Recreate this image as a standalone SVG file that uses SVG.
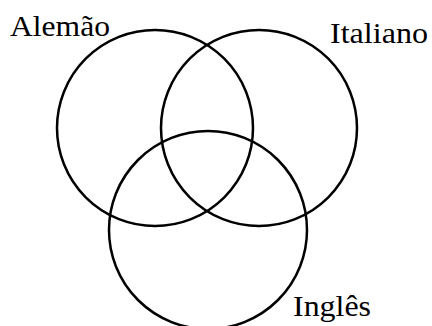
<svg xmlns="http://www.w3.org/2000/svg" width="432" height="326" viewBox="0 0 432 326">
<style>
.c{fill:none;stroke:#000;stroke-width:2.5}
.t{font-family:"Liberation Serif","DejaVu Serif",serif;font-size:30px;fill:#000}
</style>
<rect width="432" height="326" fill="#fff"/>
<g id="alemao">
<circle class="c" cx="155" cy="128" r="98"/>
<text class="t" x="10" y="36" textLength="100" lengthAdjust="spacingAndGlyphs">Alemão</text>
</g>
<g id="italiano">
<circle class="c" cx="259" cy="128" r="98"/>
<text class="t" x="330" y="43" textLength="98" lengthAdjust="spacingAndGlyphs">Italiano</text>
</g>
<g id="ingles">
<circle class="c" cx="208" cy="230" r="99"/>
<text class="t" x="293" y="316" textLength="78" lengthAdjust="spacingAndGlyphs">Inglês</text>
</g>
</svg>
